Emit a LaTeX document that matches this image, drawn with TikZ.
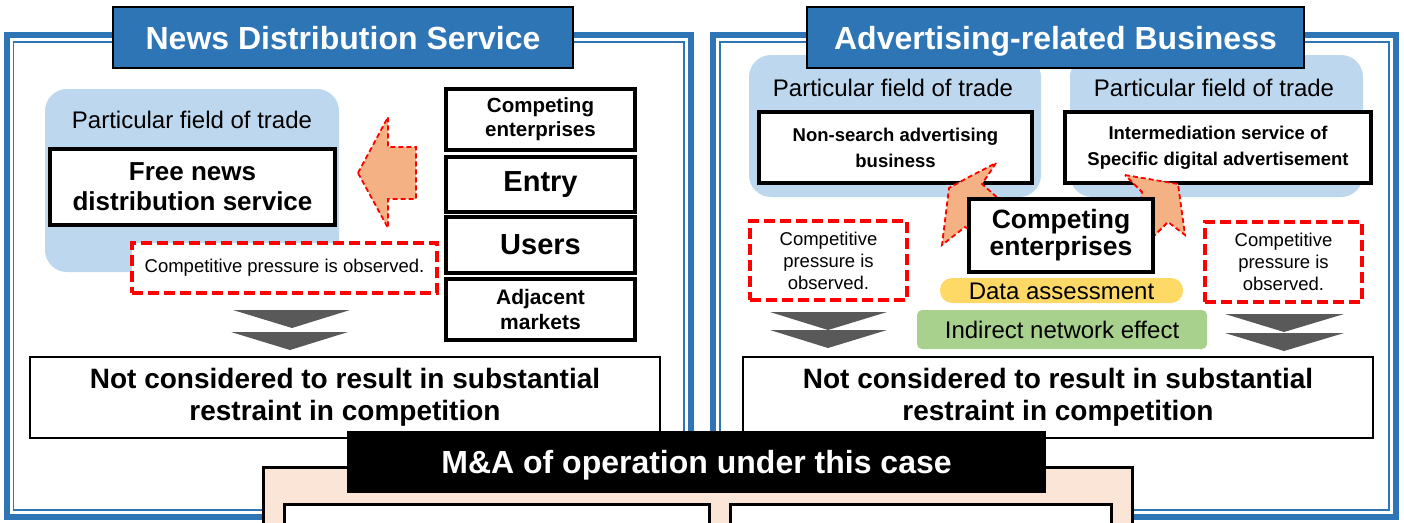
\documentclass[tikz,border=0pt]{standalone}
\usepackage{fontspec}
\setmainfont{Liberation Sans}
\usetikzlibrary{positioning}

\definecolor{panelblue}{HTML}{2E75B6}
\definecolor{fieldblue}{HTML}{BDD7EE}
\definecolor{pushorange}{HTML}{F4B183}
\definecolor{peach}{HTML}{FBE5D6}
\definecolor{datayellow}{HTML}{FFD966}
\definecolor{netgreen}{HTML}{A9D18E}
\definecolor{chevgray}{HTML}{595959}

\begin{document}
\begin{tikzpicture}[x=1pt, y=-1pt,
    panel/.style={draw=panelblue, line width=6pt},
    panelin/.style={draw=panelblue, line width=1.6pt},
    title/.style={draw=black, line width=2.5pt, fill=panelblue, text=white, inner sep=0pt,
        text height=23pt, text depth=0pt, font=\fontsize{32}{34}\selectfont\bfseries},
    field/.style={fill=fieldblue, rounded corners=22pt},
    fieldtext/.style={font=\fontsize{24}{26}\selectfont},
    box/.style={draw=black, line width=3.5pt, fill=white, align=center, inner sep=0pt},
    pressure/.style={draw=red, line width=4pt, dash pattern=on 11pt off 5pt, fill=white,
        align=center, inner sep=0pt, font=\fontsize{18.5}{22}\selectfont},
    push/.style={draw=red, fill=pushorange, line width=1.8pt, dash pattern=on 5pt off 3pt},
    chevron/.style={fill=chevgray},
    result/.style={draw=black, line width=2.5pt, fill=white, align=center, inner sep=0pt,
        font=\fontsize{28}{32}\selectfont\bfseries}]

    \useasboundingbox (0,0) rectangle (1404,522);

    % Panel frames:
    \draw[panel] (6.5,35) rectangle (691,517);
    \draw[panelin] (13.5,42) rectangle (684,510);
    \draw[panel] (713,35) rectangle (1396,517);
    \draw[panelin] (720,42) rectangle (1389,510);

    % News distribution service:
    \fill[field] (45,89) rectangle (339,272);
    \node[fieldtext] (fieldN) at (192,120) {Particular field of trade};
    \node[box, minimum width=285, minimum height=76, font=\fontsize{26}{30}\selectfont\bfseries]
        (freenews) at (192.5,187) {Free news\\distribution service};

    \node[box, minimum width=189, minimum height=61, font=\fontsize{20.5}{24}\selectfont\bfseries]
        (compN) at (540.5,119.5) {Competing\\enterprises};
    \node[box, minimum width=189, minimum height=55, font=\fontsize{29}{30}\selectfont\bfseries]
        (entry) at (540.5,184.5) {Entry};
    \node[box, minimum width=189, minimum height=56, font=\fontsize{29}{30}\selectfont\bfseries]
        (users) at (540.5,245) {Users};
    \node[box, minimum width=189, minimum height=61, font=\fontsize{21}{25}\selectfont\bfseries]
        (adjacent) at (540.5,309.5) {Adjacent\\markets};

    \draw[push] (358,173) -- (388,117) -- (388,147) -- (416,147) -- (416,199)
        -- (388,199) -- (388,228) -- cycle;

    \node[pressure, minimum width=305, minimum height=50] (pressN) at (284.5,268)
        {Competitive pressure is observed.};

    \fill[chevron] (233,310) -- (350,310) -- (292,328) -- cycle;
    \fill[chevron] (231,332) -- (348,332) -- (290,350) -- cycle;

    \node[result, minimum width=630, minimum height=81] (resultN) at (345,397.5)
        {Not considered to result in substantial\\restraint in competition};

    \node[title, minimum width=460, minimum height=61] (titleN) at (343,37.5)
        {News Distribution Service};

    % Advertising-related business:
    \fill[field] (749,55) rectangle (1041,197);
    \fill[field] (1070,55) rectangle (1363,197);
    \node[fieldtext] (fieldA) at (893,88) {Particular field of trade};
    \node[fieldtext] (fieldB) at (1214,88) {Particular field of trade};
    \node[box, minimum width=273, minimum height=71, font=\fontsize{18.5}{26}\selectfont\bfseries]
        (nonsearch) at (895.5,147.5) {Non-search advertising\\business};
    \node[box, minimum width=306, minimum height=71, font=\fontsize{18.5}{26}\selectfont\bfseries]
        (intermed) at (1218,147.5) {Intermediation service of\\Specific digital advertisement};

    \draw[push] (996,163) -- (982,184) -- (1000,200) -- (985,240) -- (965,227)
        -- (942,245) -- (949,188) -- (969,177) -- cycle;
    \draw[push] (1125,175) -- (1178,184) -- (1185,235) -- (1168,222) -- (1150,240)
        -- (1140,205) -- (1142,192) -- cycle;

    \node[box, minimum width=184, minimum height=73, font=\fontsize{26.5}{27}\selectfont\bfseries]
        (compA) at (1061,235.5) {Competing\\enterprises};

    \node[pressure, minimum width=157, minimum height=79] (pressA) at (828.5,260.5)
        {Competitive\\pressure is\\observed.};
    \node[pressure, minimum width=157, minimum height=80] (pressB) at (1283.5,262)
        {Competitive\\pressure is\\observed.};

    \node[fill=datayellow, rounded corners=12pt, minimum width=243, minimum height=25, inner sep=0pt,
        text height=17pt, text depth=0pt, font=\fontsize{24}{26}\selectfont] (data)
        at (1061.5,290.5) {Data assessment};
    \node[fill=netgreen, rounded corners=5pt, minimum width=290, minimum height=39, inner sep=0pt,
        text height=17pt, text depth=0pt, font=\fontsize{24}{26}\selectfont] (network)
        at (1062,329.5) {Indirect network effect};

    \fill[chevron] (770,312) -- (887,312) -- (828,330) -- cycle;
    \fill[chevron] (770,330) -- (887,330) -- (828,348) -- cycle;
    \fill[chevron] (1225,314) -- (1344,314) -- (1284,332) -- cycle;
    \fill[chevron] (1225,333) -- (1344,333) -- (1284,351) -- cycle;

    \node[result, minimum width=630, minimum height=81] (resultA) at (1058,397.5)
        {Not considered to result in substantial\\restraint in competition};

    \node[title, minimum width=497, minimum height=61] (titleA) at (1055.5,37.5)
        {Advertising-related Business};

    % M&A part:
    \draw[fill=peach, line width=3pt] (263,467) rectangle (1132,545);
    \draw[fill=white, line width=3pt] (284,504) rectangle (709,545);
    \draw[fill=white, line width=3pt] (730,504) rectangle (1111,545);
    \node[fill=black, text=white, minimum width=699, minimum height=62, inner sep=0pt,
        text height=23pt, text depth=0pt, font=\fontsize{32}{34}\selectfont\bfseries]
        (deal) at (696.5,462) {M\&A of operation under this case};
\end{tikzpicture}
\end{document}
